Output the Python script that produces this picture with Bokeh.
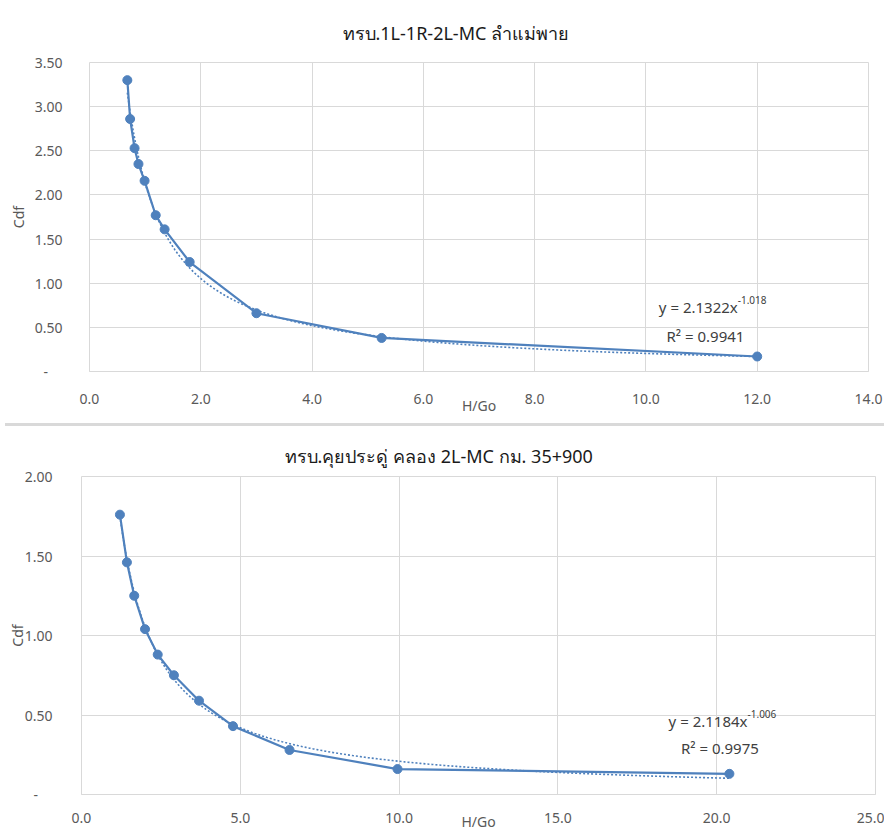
from bokeh.plotting import figure
from bokeh.layouts import column
from bokeh.models import Range1d, FixedTicker, Label, Div
from bokeh.embed import file_html
from bokeh.resources import INLINE
import numpy as np

# ---------------- data ----------------
top_title = "ทรบ.1L-1R-2L-MC ลำแม่พาย"
top_x = [0.68, 0.73, 0.81, 0.88, 0.99, 1.19, 1.35, 1.80, 3.00, 5.25, 12.0]
top_y = [3.30, 2.86, 2.53, 2.35, 2.16, 1.77, 1.61, 1.24, 0.66, 0.38, 0.17]
top_fit_a = 2.1322
top_fit_b = -1.018
top_r2 = "0.9941"
top_xticks = [0, 2, 4, 6, 8, 10, 12, 14]
top_xlabels = ["0.0", "2.0", "4.0", "6.0", "8.0", "10.0", "12.0", "14.0"]
top_yticks = [0, 0.5, 1.0, 1.5, 2.0, 2.5, 3.0, 3.5]
top_ylabels = ["-\u00a0\u00a0\u00a0\u00a0", "0.50", "1.00", "1.50", "2.00", "2.50", "3.00", "3.50"]

bot_title = "ทรบ.คุยประดู่ คลอง 2L-MC กม. 35+900"
bot_x = [1.21, 1.43, 1.66, 2.00, 2.40, 2.91, 3.70, 4.77, 6.55, 9.95, 20.4]
bot_y = [1.76, 1.46, 1.25, 1.04, 0.88, 0.75, 0.59, 0.43, 0.28, 0.16, 0.13]
bot_fit_a = 2.1184
bot_fit_b = -1.006
bot_r2 = "0.9975"
bot_xticks = [0, 5, 10, 15, 20, 25]
bot_xlabels = ["0.0", "5.0", "10.0", "15.0", "20.0", "25.0"]
bot_yticks = [0, 0.5, 1.0, 1.5, 2.0]
bot_ylabels = ["-\u00a0\u00a0\u00a0\u00a0", "0.50", "1.00", "1.50", "2.00"]

x_title = "H/Go"
y_title = "Cdf"

BLUE = "#4f81bd"
GRID = "#d9d9d9"
TXT = "#595959"
FONT = "'Noto Sans', 'Open Sans', sans-serif"


def make_chart(title, xs, ys, fit_a, fit_b, r2, xticks, xlabels, yticks, ylabels,
               width, height, bl, br, bt, bb, tick_std_x, tick_std_y, xlab_std, ylab_std,
               title_off, title_std, eq_pos, r2_pos):
    p = figure(width=width, height=height, output_backend="svg", toolbar_location=None,
               x_range=Range1d(xticks[0], xticks[-1]), y_range=Range1d(yticks[0], yticks[-1]),
               min_border_left=bl, min_border_right=br, min_border_top=bt, min_border_bottom=bb,
               background_fill_color="white", border_fill_color="white")
    p.outline_line_color = GRID

    p.title.text = title
    p.title.align = "left"
    p.title.offset = title_off
    p.title.standoff = title_std
    p.title.text_font = FONT
    p.title.text_font_size = "18px"
    p.title.text_font_style = "normal"
    p.title.text_color = "#1a1a1a"

    for ax, ticks, labels, std in ((p.xaxis[0], xticks, xlabels, tick_std_x),
                                   (p.yaxis[0], yticks, ylabels, tick_std_y)):
        ax.ticker = FixedTicker(ticks=ticks)
        ax.major_label_overrides = {t: l for t, l in zip(ticks, labels)}
        ax.major_tick_line_color = None
        ax.minor_tick_line_color = None
        ax.major_label_text_font = FONT
        ax.major_label_text_font_size = "14px"
        ax.major_label_text_color = TXT
        ax.major_label_standoff = std
        ax.axis_label_text_font = FONT
        ax.axis_label_text_font_size = "14px"
        ax.axis_label_text_font_style = "normal"
        ax.axis_label_text_color = TXT
    p.xaxis.axis_line_color = GRID
    p.yaxis.axis_line_color = None
    p.xaxis.axis_label = x_title
    p.xaxis.axis_label_standoff = xlab_std
    p.yaxis.axis_label = y_title
    p.yaxis.axis_label_standoff = ylab_std

    p.xgrid.ticker = FixedTicker(ticks=xticks)
    p.ygrid.ticker = FixedTicker(ticks=yticks)
    p.grid.grid_line_color = GRID
    p.grid.grid_line_width = 1

    # power trendline from the printed equation
    xf = np.linspace(min(xs), max(xs), 200)
    yf = fit_a * xf ** fit_b
    p.line(xf, yf, line_color=BLUE, line_width=1.6, line_dash="2 2")

    p.line(xs, ys, line_color=BLUE, line_width=2.2)
    p.scatter(xs, ys, size=9, fill_color=BLUE, line_color=BLUE)

    eq_main = "y = %sx" % ("%.4f" % fit_a)
    eq_sup = "%.3f" % fit_b
    p.add_layout(Label(x=eq_pos[0], y=eq_pos[1], text=eq_main, text_align="right",
                       text_baseline="middle", text_font=FONT, text_font_size="15px",
                       text_color="#404040"))
    p.add_layout(Label(x=eq_pos[0], y=eq_pos[1], y_offset=7, text=eq_sup, text_align="left",
                       text_baseline="middle", text_font=FONT, text_font_size="10px",
                       text_color="#404040"))
    p.add_layout(Label(x=r2_pos[0], y=r2_pos[1], text="R² = " + r2, text_align="center",
                       text_baseline="middle", text_font=FONT, text_font_size="15px",
                       text_color="#404040"))
    return p


p1 = make_chart(top_title, top_x, top_y, top_fit_a, top_fit_b, top_r2,
                top_xticks, top_xlabels, top_yticks, top_ylabels,
                width=884, height=418, bl=89, br=16, bt=62, bb=47,
                tick_std_x=16, tick_std_y=21, xlab_std=-11, ylab_std=4,
                title_off=253, title_std=35, eq_pos=(11.65, 0.736), r2_pos=(11.07, 0.40))
p2 = make_chart(bot_title, bot_x, bot_y, bot_fit_a, bot_fit_b, bot_r2,
                bot_xticks, bot_xlabels, bot_yticks, bot_ylabels,
                width=884, height=403, bl=81, br=9, bt=45, bb=40,
                tick_std_x=12, tick_std_y=23, xlab_std=-14, ylab_std=-5,
                title_off=203, title_std=18, eq_pos=(20.97, 0.465), r2_pos=(20.1, 0.29))

sep = Div(text="", width=884, height=3, styles={"background-color": GRID})
lower = column(sep, p2, spacing=0)

open("out.html", "w").write(file_html([p1, lower], INLINE))
